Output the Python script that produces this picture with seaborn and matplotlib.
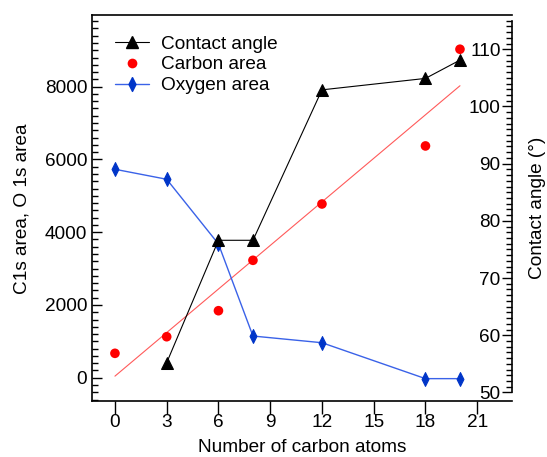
import numpy as np
import matplotlib
matplotlib.use("Agg")
import matplotlib.pyplot as plt
from matplotlib.lines import Line2D
from matplotlib.ticker import MultipleLocator, FixedLocator
import seaborn as sns

# data
carbons = [0, 3, 6, 8, 12, 18, 20]
carbon_area = [671, 1127, 1842, 3227, 4775, 6370, 9028]
oxygen_area = [5729, 5454, 3676, 1146, 962, -25, -25]
angle_x = [3, 6, 8, 12, 18, 20]
contact_angle = [55.2, 76.6, 76.6, 102.9, 104.9, 108.1]

x_ticks = [0, 3, 6, 9, 12, 15, 18, 21]
left_ticks = [0, 2000, 4000, 6000, 8000]
right_ticks = [50, 60, 70, 80, 90, 100, 110]

sns.set_style("ticks")
plt.rcParams['font.family'] = ['Liberation Sans', 'DejaVu Sans']
plt.rcParams['font.size'] = 13.7
for k in ['text.color', 'axes.labelcolor', 'xtick.color', 'ytick.color', 'axes.edgecolor']:
    plt.rcParams[k] = 'black'
plt.rcParams['ytick.direction'] = 'in'

FS = 13.7
thin_diamond = [(0, 1), (0.5, 0), (0, -1), (-0.5, 0), (0, 1)]

fig = plt.figure(figsize=(5.47, 4.57), dpi=100)
ax = fig.add_axes([0.1682, 0.1225, 0.9355 - 0.1682, 0.9661 - 0.1225])

# carbon area + linear fit
sns.regplot(x=carbons, y=carbon_area, scatter=False, ci=None, ax=ax,
            line_kws=dict(color='#ff5a5a', linewidth=0.8))
sns.scatterplot(x=carbons, y=carbon_area, ax=ax, color='#ff0000', marker='o',
                s=48, edgecolor='none', zorder=4)
# oxygen area
sns.lineplot(x=carbons, y=oxygen_area, ax=ax, color='#3a62e8', linewidth=1.0,
             marker=thin_diamond, markersize=10, markerfacecolor='#0035c8',
             markeredgecolor='#0035c8', zorder=3)

ax.set_xlim(-1.33, 23.0)
ax.set_ylim(-640, 9955)
ax.set_xticks(x_ticks)
ax.set_yticks(left_ticks)
ax.yaxis.set_minor_locator(MultipleLocator(200))
ax.tick_params(axis='y', which='major', direction='in', length=7, width=1, labelsize=FS)
ax.tick_params(axis='y', which='minor', direction='in', length=4, width=1)
ax.tick_params(axis='x', which='major', direction='out', length=9, width=1,
               labelsize=FS, pad=0)
ax.set_xlabel('Number of carbon atoms', fontsize=FS, labelpad=6)
ax.set_ylabel('C1s area, O 1s area', fontsize=FS, labelpad=10)
for s in ['left', 'bottom', 'top']:
    ax.spines[s].set_linewidth(1.2)
ax.spines['right'].set_visible(False)

# contact angle on right axis
ax2 = ax.twinx()
sns.lineplot(x=angle_x, y=contact_angle, ax=ax2, color='black', linewidth=0.8,
             marker='^', markersize=8, markerfacecolor='black',
             markeredgecolor='black')
ax2.set_ylim(48.5, 115.9)
ax2.set_yticks(right_ticks)
ax2.yaxis.set_minor_locator(FixedLocator(np.arange(50, 116, 1)))
ax2.tick_params(axis='y', which='major', direction='in', length=7, width=1,
                labelsize=FS, pad=-8)
ax2.tick_params(axis='y', which='minor', direction='in', length=4, width=1)
for t in ax2.yaxis.get_major_ticks():
    t.label2.set_horizontalalignment('right')
ax2.set_ylabel('Contact angle (\u00b0)', fontsize=FS, labelpad=9)
ax2.spines['right'].set_bounds(50, 115)
ax2.spines['right'].set_linewidth(1.2)
for s in ['left', 'bottom', 'top']:
    ax2.spines[s].set_visible(False)

handles = [
    Line2D([], [], color='black', linewidth=0.8, marker='^', markersize=8),
    Line2D([], [], color='none', marker='o', markersize=7,
           markerfacecolor='#ff0000', markeredgecolor='none'),
    Line2D([], [], color='#3a62e8', linewidth=1.0, marker=thin_diamond, markersize=10,
           markerfacecolor='#0035c8', markeredgecolor='#0035c8'),
]
ax2.legend(handles, ['Contact angle', 'Carbon area', 'Oxygen area'],
           loc='upper left', bbox_to_anchor=(0.028, 0.978), frameon=False,
           fontsize=FS, handlelength=1.8, labelspacing=0.18, handletextpad=0.6,
           borderaxespad=0.2)

fig.savefig('out.png', dpi=100)
